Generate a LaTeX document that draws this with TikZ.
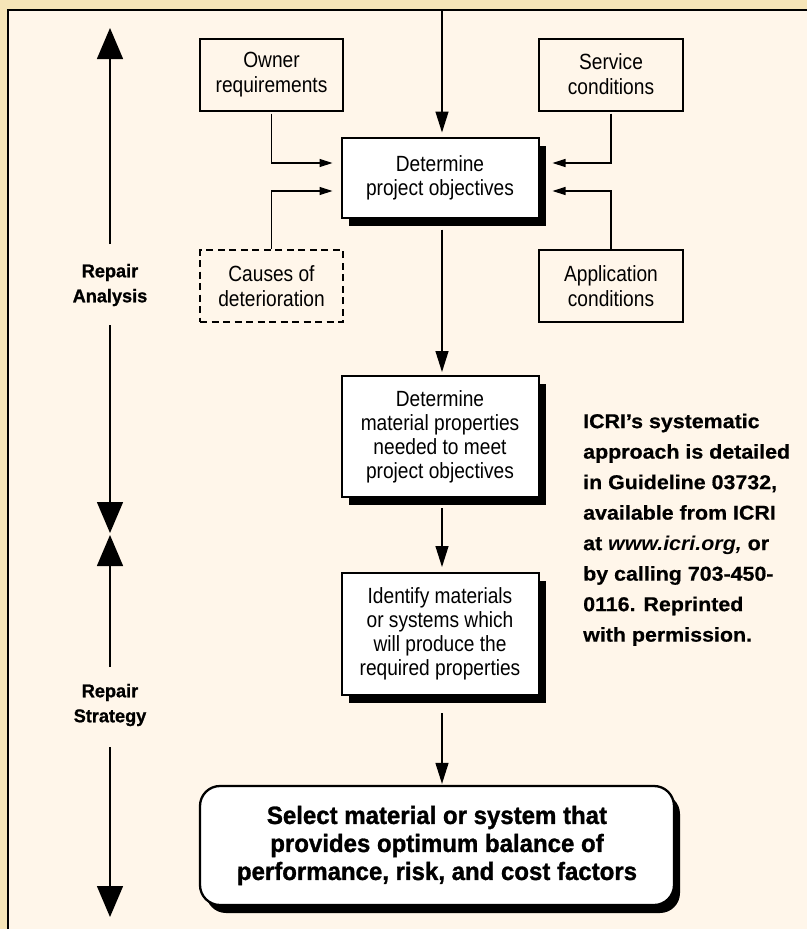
\documentclass[tikz,border=0pt]{standalone}
\usepackage{fontspec}
\setmainfont{Liberation Sans}
\newfontfamily\boxfont[FakeStretch=0.87]{Liberation Sans}
\newfontfamily\notefont[FakeStretch=1.07, BoldFeatures={FakeBold=0.6}]{Liberation Sans}
\newfontfamily\heavyfont[FakeStretch=0.96, BoldFeatures={FakeBold=1.2}]{Liberation Sans}
\newfontfamily\labelfont[FakeStretch=0.98, BoldFeatures={FakeBold=1}]{Liberation Sans}
\usetikzlibrary{arrows.meta,shadows,calc}
\definecolor{tanbg}{RGB}{246,229,184}
\definecolor{creambg}{RGB}{255,246,234}
\begin{document}
\begin{tikzpicture}[x=1pt,y=-1pt,
  smallbox/.style={draw, line width=2pt, minimum width=143pt, minimum height=72pt,
    inner sep=0pt, align=center, font={\boxfont\fontsize{22}{25}\selectfont}},
  mainbox/.style={draw, line width=2pt, fill=white, minimum width=197pt, minimum height=80pt,
    inner sep=0pt, align=center, font={\boxfont\fontsize{22}{24}\selectfont},
    drop shadow={shadow xshift=7pt, shadow yshift=-8pt, fill=black, opacity=1}},
  finalbox/.style={draw, line width=2.3pt, fill=white, rounded corners=20pt,
    minimum width=474pt, minimum height=119pt, inner sep=0pt, align=center,
    font={\heavyfont\bfseries\fontsize{25}{28}\selectfont},
    drop shadow={shadow xshift=6pt, shadow yshift=-8pt, fill=black, opacity=1}},
  phaselabel/.style={inner sep=0pt, align=center, font={\labelfont\bfseries\fontsize{18.5}{25}\selectfont}},
  notetext/.style={inner sep=0pt, align=left, font={\notefont\bfseries\fontsize{20}{30.5}\selectfont}},
  flow/.style={line width=1.3pt, -{Triangle[length=21pt,width=13pt]}},
  side/.style={line width=1.3pt, -{Triangle[length=13pt,width=8pt]}},
  phase/.style={line width=1.5pt, -{Triangle[length=31pt,width=26pt]}}
]
\useasboundingbox (0,0) rectangle (807,929);
\fill[tanbg] (0,0) rectangle (807,929);
\fill[creambg] (8,10) rectangle (807,929);
\draw[line width=1.3pt] (8,929) -- (8,10) -- (807,10);

% boxes
\node[smallbox] (owner) at (271.5,74.5) {Owner\\requirements};
\node[smallbox, minimum width=144pt] (service) at (611,74.5) {Service\\conditions};
\node[mainbox] (obj) at (440,177.5) {Determine\\project objectives};
\node[smallbox, dash pattern=on 7pt off 4.5pt] (causes) at (271.5,286) {Causes of\\deterioration};
\node[smallbox, minimum width=144pt] (app) at (611,286) {Application\\conditions};
\node[mainbox, minimum height=121pt] (mat) at (440,436.5) {Determine\\material properties\\needed to meet\\project objectives};
\node[mainbox, minimum height=122pt] (ident) at (440,634) {Identify materials\\or systems which\\will produce the\\required properties};
\node[finalbox] (final) at (437,845.5) {Select material or system that\\provides optimum balance of\\performance, risk, and cost factors};

% main flow
\coordinate (top) at (442,10);
\draw[flow, shorten >=4pt] (top) -- (top |- obj.north);
\draw[flow, shorten <=11pt, shorten >=3pt] (top |- obj.south) -- (top |- mat.north);
\draw[flow, shorten <=10pt, shorten >=5pt] (top |- mat.south) -- (top |- ident.north);
\draw[flow, shorten <=17pt, shorten >=1pt] (top |- ident.south) -- (top |- final.north);

% side inputs
\draw[side, shorten <=2pt, shorten >=8pt] (owner.south) |- ($(obj.west)+(0,-14.5)$);
\draw[side, shorten >=8pt] (causes.north) |- ($(obj.west)+(0,13.5)$);
\draw[side, shorten <=2pt, shorten >=13pt] (service.south) |- ($(obj.east)+(0,-14.5)$);
\draw[side, shorten >=13pt] (app.north) |- ($(obj.east)+(0,13.5)$);

% phase arrows
\node[phaselabel] (ra) at (110,285) {Repair\\Analysis};
\node[phaselabel] (rs) at (110,705) {Repair\\Strategy};
\coordinate (ratop) at (110,28);
\coordinate (rabot) at (110,533);
\coordinate (rstop) at (110,535);
\coordinate (rsbot) at (110,917);
\draw[phase] (ratop |- 0,244) -- (ratop);
\draw[phase] (rabot |- 0,325) -- (rabot);
\draw[phase] (rstop |- 0,667) -- (rstop);
\draw[phase] (rsbot |- 0,747) -- (rsbot);

% note
\node[notetext, anchor=west] (note) at (583,529.7) {ICRI’s systematic\\approach is detailed\\in Guideline 03732,\\available from ICRI\\at \textit{www.icri.org,} or\\by calling 703-450-\\0116. Reprinted\\with permission.};
\end{tikzpicture}
\end{document}
